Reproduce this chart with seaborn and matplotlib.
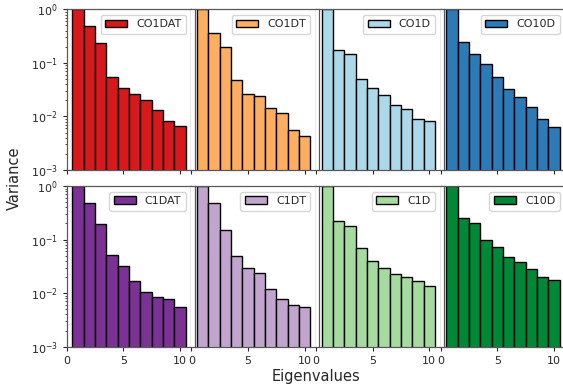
import numpy as np
import pandas as pd
import matplotlib
matplotlib.use("Agg")
import matplotlib.pyplot as plt
import seaborn as sns

# Eigenvalue index shared by every panel
eigen_idx = [1, 2, 3, 4, 5, 6, 7, 8, 9, 10]

# Normalised variance per eigenvalue, top row
co1dat = [1.0, 0.49, 0.235, 0.055, 0.0335, 0.026, 0.0206, 0.0132, 0.0084, 0.0066]
co1dt = [1.0, 0.356, 0.195, 0.047, 0.0258, 0.024, 0.0145, 0.0114, 0.0056, 0.0044]
co1d = [1.0, 0.171, 0.146, 0.051, 0.0334, 0.0247, 0.0161, 0.0135, 0.0089, 0.0082]
co10d = [1.0, 0.242, 0.146, 0.0937, 0.055, 0.0324, 0.0226, 0.0149, 0.009, 0.0063]

# Normalised variance per eigenvalue, bottom row
c1dat = [1.0, 0.475, 0.195, 0.052, 0.0318, 0.0171, 0.0105, 0.0084, 0.0079, 0.00545]
c1dt = [1.0, 0.489, 0.153, 0.0488, 0.0299, 0.0241, 0.0121, 0.0077, 0.0059, 0.0056]
c1d = [1.0, 0.219, 0.179, 0.0687, 0.0394, 0.0291, 0.0225, 0.0198, 0.0169, 0.0134]
c10d = [1.0, 0.249, 0.201, 0.0984, 0.0728, 0.0473, 0.0387, 0.0287, 0.0198, 0.0174]

series_names = [["CO1DAT", "CO1DT", "CO1D", "CO10D"],
                ["C1DAT", "C1DT", "C1D", "C10D"]]
series_values = [[co1dat, co1dt, co1d, co10d],
                 [c1dat, c1dt, c1d, c10d]]
series_colors = [["#d7191c", "#fdae61", "#abd9e9", "#2c7bb6"],
                 ["#7b3294", "#c2a5cf", "#a6dba0", "#008837"]]

sns.set_style("ticks")
plt.rcParams["font.family"] = ["DejaVu Sans"]

fig, axes = plt.subplots(2, 4, sharex=True, sharey=True, figsize=(5.63, 3.90), dpi=100)
fig.subplots_adjust(left=0.1185, right=1.004, top=0.976, bottom=0.111,
                    wspace=0.0, hspace=0.1)

for r in range(2):
    for c in range(4):
        ax = axes[r, c]
        ax.set_yscale("log")
        df = pd.DataFrame({"eig": eigen_idx, "var": series_values[r][c]})
        sns.barplot(data=df, x="eig", y="var", native_scale=True, width=1.0,
                    color=series_colors[r][c], saturation=1, edgecolor="black",
                    linewidth=1.0, errorbar=None, label=series_names[r][c], ax=ax)
        ax.set_ylim(1e-3, 1.0)
        ax.set_xlabel("")
        ax.set_ylabel("")
        ax.set_xticks([0, 5, 10])
        ax.tick_params(labelsize=8, length=3)
        ax.tick_params(which="minor", length=1.8)
        for sp in ax.spines.values():
            sp.set_color("0.35")
            sp.set_linewidth(0.9)
        if c > 0:
            # inner panels: no y ticks, left spine set slightly inside
            ax.tick_params(axis="y", which="both", left=False)
            ax.spines["left"].set_position(("outward", -2.4))
        ax.legend(loc="upper right", fontsize=8, handlelength=2.0)

fig.text(0.5615, 0.035, "Eigenvalues", ha="center", va="center", fontsize=10.5)
fig.text(0.026, 0.543, "Variance", ha="center", va="center", rotation=90, fontsize=10.5)

fig.savefig("out.png", dpi=100)
